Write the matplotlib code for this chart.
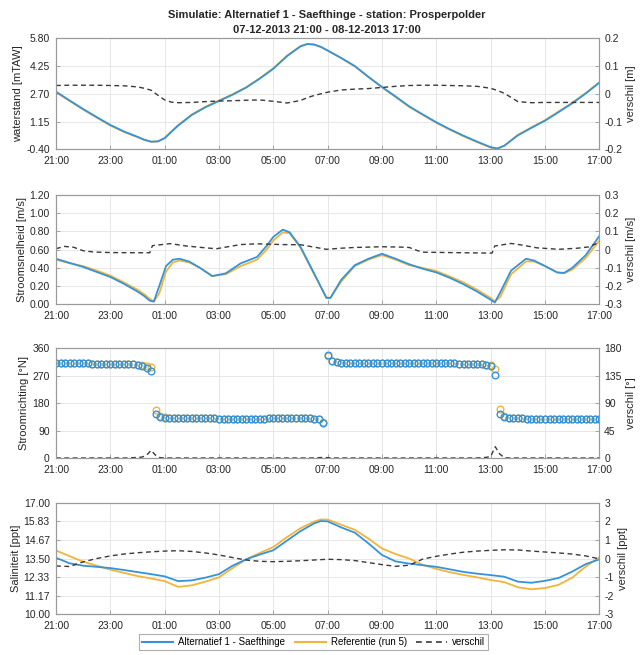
import numpy as np
import matplotlib.pyplot as plt
from matplotlib.lines import Line2D

plt.rcParams['font.family'] = ['Liberation Sans', 'DejaVu Sans']

# x axis: hours since 07-12-2013 21:00
tick_hours = [0, 2, 4, 6, 8, 10, 12, 14, 16, 18, 20]
tick_labels = ['21:00', '23:00', '01:00', '03:00', '05:00', '07:00',
               '09:00', '11:00', '13:00', '15:00', '17:00']

# --- waterstand [mTAW] ---
wl_t = [0, 0.5, 1, 1.5, 2, 2.5, 3, 3.25, 3.5, 3.75, 4, 4.25, 4.5, 5, 5.5, 6, 6.5, 7,
        7.5, 8, 8.5, 9, 9.25, 9.5, 9.75, 10, 10.5, 11, 11.5, 12, 12.5, 13, 13.5, 14,
        14.5, 15, 15.5, 16, 16.25, 16.5, 17, 17.5, 18, 18.5, 19, 19.5, 20]
wl_alt = [2.82, 2.33, 1.85, 1.40, 0.96, 0.60, 0.30, 0.14, 0.03, 0.04, 0.22, 0.58, 0.93,
          1.52, 1.95, 2.30, 2.65, 3.05, 3.55, 4.10, 4.80, 5.35, 5.48, 5.45, 5.32, 5.12,
          4.70, 4.25, 3.65, 3.08, 2.55, 2.00, 1.55, 1.11, 0.72, 0.36, 0.03, -0.28, -0.35,
          -0.20, 0.38, 0.80, 1.20, 1.68, 2.17, 2.72, 3.32]
wl_ref = [2.79, 2.30, 1.82, 1.37, 0.93, 0.57, 0.28, 0.12, 0.02, 0.05, 0.24, 0.61, 0.96,
          1.55, 1.98, 2.33, 2.68, 3.07, 3.57, 4.13, 4.83, 5.37, 5.49, 5.46, 5.32, 5.11,
          4.69, 4.23, 3.63, 3.06, 2.52, 1.97, 1.52, 1.08, 0.69, 0.33, 0.00, -0.30, -0.36,
          -0.20, 0.41, 0.83, 1.23, 1.71, 2.20, 2.75, 3.35]
wl_diff = [0.030, 0.031, 0.031, 0.031, 0.030, 0.029, 0.025, 0.020, 0.013, -0.005, -0.022,
           -0.030, -0.032, -0.031, -0.028, -0.026, -0.025, -0.023, -0.022, -0.027, -0.033,
           -0.024, -0.014, -0.006, 0.000, 0.006, 0.014, 0.017, 0.019, 0.023, 0.027, 0.030,
           0.031, 0.031, 0.030, 0.029, 0.027, 0.020, 0.012, 0.002, -0.028, -0.032, -0.031,
           -0.031, -0.031, -0.031, -0.031]

# --- stroomsnelheid [m/s] ---
sp_t = [0, 0.5, 1, 1.5, 2, 2.5, 3, 3.25, 3.45, 3.6, 3.8, 4.05, 4.3, 4.55, 4.9, 5.3, 5.75,
        6.25, 6.8, 7.4, 7.75, 8.0, 8.35, 8.6, 9.0, 9.5, 9.95, 10.1, 10.5, 11, 11.5, 12,
        12.5, 13, 13.5, 14, 14.5, 15, 15.5, 16, 16.15, 16.35, 16.75, 17.3, 17.6, 18,
        18.45, 18.7, 19, 19.5, 20]
sp_alt = [0.50, 0.455, 0.41, 0.355, 0.30, 0.225, 0.14, 0.09, 0.04, 0.03, 0.20, 0.42, 0.49,
          0.50, 0.47, 0.40, 0.31, 0.34, 0.45, 0.52, 0.64, 0.74, 0.82, 0.79, 0.63, 0.34,
          0.07, 0.07, 0.27, 0.43, 0.50, 0.555, 0.50, 0.44, 0.39, 0.35, 0.29, 0.22, 0.14,
          0.05, 0.02, 0.13, 0.37, 0.50, 0.48, 0.42, 0.35, 0.345, 0.40, 0.54, 0.75]
sp_ref = [0.49, 0.45, 0.42, 0.37, 0.315, 0.24, 0.16, 0.11, 0.06, 0.03, 0.12, 0.36, 0.46,
          0.48, 0.46, 0.40, 0.31, 0.33, 0.42, 0.49, 0.60, 0.70, 0.79, 0.78, 0.62, 0.33,
          0.08, 0.07, 0.25, 0.42, 0.49, 0.54, 0.49, 0.43, 0.40, 0.365, 0.305, 0.24, 0.16,
          0.07, 0.03, 0.08, 0.33, 0.47, 0.47, 0.42, 0.35, 0.34, 0.38, 0.51, 0.70]
sd_t = [0, 0.3, 0.65, 1.0, 1.4, 2, 3.0, 3.45, 3.55, 4.2, 4.8, 5.5, 5.9, 6.8, 7.4, 8.3, 9.0,
        9.95, 10.5, 11.0, 12.0, 12.7, 13.0, 13.3, 13.5, 14.5, 15.5, 16.05, 16.15, 16.75,
        17.2, 17.7, 18.5, 19.2, 19.6, 20]
sp_diff = [0.005, 0.018, 0.013, -0.006, -0.013, -0.016, -0.017, -0.017, 0.022, 0.033,
           0.020, 0.010, 0.005, 0.028, 0.032, 0.028, 0.027, 0.002, 0.008, 0.012, 0.016,
           0.014, 0.012, -0.005, -0.014, -0.016, -0.018, -0.019, 0.020, 0.034, 0.024,
           0.010, 0.002, 0.008, 0.015, 0.040]

# --- stroomrichting [deg N], every 10 minutes ---
dir_t = np.arange(121) / 6.0
dir_alt = [311, 311, 311, 311, 311, 311, 311, 311, 310, 310, 310, 310,
           310, 309, 309, 309, 308, 307, 305, 302, 297, 285, 146, 136,
           133, 133, 133, 133, 133, 132, 132, 132, 132, 131, 131, 131,
           130, 129, 129, 128, 128, 128, 128, 129, 129, 130, 130, 131,
           132, 132, 132, 132, 132, 132, 132, 131, 131, 130, 127, 116,
           337, 318, 314, 313, 313, 313, 313, 313, 313, 313, 313, 313,
           313, 313, 313, 313, 313, 313, 312, 312, 312, 312, 312, 312,
           312, 312, 311, 311, 311, 310, 310, 309, 309, 308, 307, 305,
           301, 271, 145, 135, 132, 131, 131, 131, 130, 130, 130, 130,
           129, 129, 129, 129, 128, 128, 128, 128, 129, 129, 129, 129,
           130]
dir_ref = [311, 311, 311, 311, 311, 311, 311, 311, 310, 310, 310, 310,
           310, 309, 309, 309, 308, 307, 306, 305, 302, 298, 159, 138,
           134, 133, 133, 133, 133, 132, 132, 132, 132, 131, 131, 131,
           130, 129, 129, 128, 128, 128, 128, 129, 129, 130, 130, 131,
           132, 132, 132, 132, 132, 132, 132, 131, 131, 130, 128, 118,
           336, 318, 314, 313, 313, 313, 313, 313, 313, 313, 313, 313,
           313, 313, 313, 313, 313, 313, 312, 312, 312, 312, 312, 312,
           312, 312, 311, 311, 311, 310, 310, 309, 309, 308, 307, 306,
           304, 291, 160, 138, 133, 131, 131, 131, 130, 130, 130, 130,
           129, 129, 129, 129, 128, 128, 128, 128, 129, 129, 129, 129,
           130]
dir_diff = [0.5, 0.5, 0.5, 0.5, 0.5, 0.5, 0.5, 0.5, 0.5, 0.5, 0.5, 0.5,
            0.5, 0.5, 0.5, 0.5, 0.5, 1, 1.5, 2, 5, 13, 5, 1,
            0.5, 0.5, 0.5, 0.5, 0.5, 0.5, 0.5, 0.5, 0.5, 0.5, 0.5, 0.5,
            0.5, 0.5, 0.5, 0.5, 0.5, 0.5, 0.5, 0.5, 0.5, 0.5, 0.5, 0.5,
            0.5, 0.5, 0.5, 0.5, 0.5, 0.5, 0.5, 0.5, 0.5, 0.5, 1, 1.5,
            1, 0.5, 0.5, 0.5, 0.5, 0.5, 0.5, 0.5, 0.5, 0.5, 0.5, 0.5,
            0.5, 0.5, 0.5, 0.5, 0.5, 0.5, 0.5, 0.5, 0.5, 0.5, 0.5, 0.5,
            0.5, 0.5, 0.5, 0.5, 0.5, 0.5, 0.5, 0.5, 0.5, 0.5, 1, 1.5,
            3, 19, 7, 1, 0.5, 0.5, 0.5, 0.5, 0.5, 0.5, 0.5, 0.5,
            0.5, 0.5, 0.5, 0.5, 0.5, 0.5, 0.5, 0.5, 0.5, 0.5, 0.5, 0.5,
            0.5]

# --- saliniteit [ppt] ---
sal_t = [0, 0.5, 1, 1.5, 2, 2.5, 3, 3.5, 4, 4.5, 5, 5.5, 6, 6.5, 7, 7.5, 8, 8.5, 9, 9.5,
         9.75, 10, 10.5, 11, 11.5, 12, 12.5, 13, 13.5, 14, 14.5, 15, 15.5, 16, 16.5, 17,
         17.5, 18, 18.5, 19, 19.5, 20]
sal_alt = [13.55, 13.20, 13.05, 12.98, 12.90, 12.78, 12.65, 12.52, 12.38, 12.08, 12.13,
           12.30, 12.52, 13.05, 13.45, 13.75, 14.02, 14.62, 15.22, 15.70, 15.85, 15.83,
           15.45, 15.12, 14.45, 13.72, 13.32, 13.18, 13.08, 12.98, 12.82, 12.66, 12.55,
           12.46, 12.36, 12.05, 11.98, 12.10, 12.28, 12.68, 13.15, 13.45]
sal_ref = [14.00, 13.65, 13.30, 13.05, 12.80, 12.60, 12.40, 12.25, 12.08, 11.72, 11.82,
           12.05, 12.32, 12.90, 13.45, 13.85, 14.22, 14.84, 15.40, 15.82, 15.95, 15.94,
           15.62, 15.30, 14.75, 14.13, 13.78, 13.50, 13.10, 12.85, 12.64, 12.47, 12.32,
           12.15, 12.02, 11.70, 11.57, 11.65, 11.85, 12.30, 13.00, 13.57]
sal_diff = [-0.40, -0.43, -0.18, 0.00, 0.14, 0.24, 0.31, 0.36, 0.40, 0.42, 0.38, 0.30,
            0.19, 0.05, -0.08, -0.15, -0.17, -0.15, -0.12, -0.08, -0.06, -0.04, -0.06,
            -0.11, -0.22, -0.33, -0.42, -0.36, -0.03, 0.12, 0.24, 0.34, 0.40, 0.44, 0.47,
            0.46, 0.40, 0.35, 0.30, 0.24, 0.14, -0.02]

BLUE = '#3593da'
YELLOW = '#f2b43a'
DASH = '#3a3a3a'
SPINE = '#9a9a9a'
TXT = '#262626'
dash_style = (0, (3.5, 2.5))


def style(ax, axr, yticks, ylabels, rticks, rlabels, ylabel, rlabel):
    ax.set_xlim(0, 20)
    ax.set_xticks(tick_hours)
    ax.set_xticklabels(tick_labels)
    ax.set_ylim(yticks[0], yticks[-1])
    ax.set_yticks(yticks)
    ax.set_yticklabels(ylabels)
    axr.set_ylim(rticks[0], rticks[-1])
    axr.set_yticks(rticks)
    axr.set_yticklabels(rlabels)
    ax.grid(True, color='#e3e3e3', lw=0.6)
    ax.set_axisbelow(True)
    for a in (ax, axr):
        for s in a.spines.values():
            s.set_color(SPINE)
            s.set_linewidth(0.8)
        a.tick_params(direction='in', length=3, width=0.6, color=SPINE,
                      labelsize=7.5, labelcolor=TXT)
    ax.tick_params(axis='x', pad=4.5)
    ax.tick_params(axis='y', pad=4.5)
    axr.tick_params(axis='y', pad=3.5)
    ax.set_ylabel(ylabel, fontsize=8, color=TXT, labelpad=2)
    axr.set_ylabel(rlabel, fontsize=8, color=TXT, labelpad=3)


fig = plt.figure(figsize=(6.4, 6.55), dpi=100)
L, W = 0.0875, 0.849

ax1 = fig.add_axes([L, 0.772, W, 0.1695])
ax2 = fig.add_axes([L, 0.5354, W, 0.1669])
ax3 = fig.add_axes([L, 0.3003, W, 0.168])
ax4 = fig.add_axes([L, 0.0621, W, 0.1704])

# panel 1
ax1r = ax1.twinx()
ax1.plot(wl_t, wl_ref, color=YELLOW, lw=1.3, zorder=2)
ax1.plot(wl_t, wl_alt, color=BLUE, lw=1.3, zorder=3)
ax1r.plot(wl_t, wl_diff, color=DASH, lw=1.0, ls=dash_style)
style(ax1, ax1r, [-0.4, 1.15, 2.7, 4.25, 5.8], ['-0.40', '1.15', '2.70', '4.25', '5.80'],
      [-0.2, -0.1, 0, 0.1, 0.2], ['-0.2', '-0.1', '0', '0.1', '0.2'],
      'waterstand [mTAW]', 'verschil [m]')

# panel 2
ax2r = ax2.twinx()
ax2.plot(sp_t, sp_ref, color=YELLOW, lw=1.3, zorder=2)
ax2.plot(sp_t, sp_alt, color=BLUE, lw=1.3, zorder=3)
ax2r.plot(sd_t, sp_diff, color=DASH, lw=1.0, ls=dash_style)
style(ax2, ax2r, [0, 0.2, 0.4, 0.6, 0.8, 1.0, 1.2],
      ['0.00', '0.20', '0.40', '0.60', '0.80', '1.00', '1.20'],
      [-0.3, -0.2, -0.1, 0, 0.1, 0.2, 0.3],
      ['-0.3', '-0.2', '-0.1', '0', '0.1', '0.2', '0.3'],
      'Stroomsnelheid [m/s]', 'verschil [m/s]')

# panel 3
ax3r = ax3.twinx()
ax3.plot(dir_t, dir_ref, 'o', mfc='none', mec=YELLOW, ms=4.8, mew=1.0, zorder=2)
ax3.plot(dir_t, dir_alt, 'o', mfc='none', mec=BLUE, ms=4.8, mew=1.0, zorder=3)
ax3r.plot(dir_t, dir_diff, color=DASH, lw=1.0, ls=dash_style)
style(ax3, ax3r, [0, 90, 180, 270, 360], ['0', '90', '180', '270', '360'],
      [0, 45, 90, 135, 180], ['0', '45', '90', '135', '180'],
      'Stroomrichting [°N]', 'verschil [°]')

# panel 4
ax4r = ax4.twinx()
ax4.plot(sal_t, sal_ref, color=YELLOW, lw=1.3, zorder=2)
ax4.plot(sal_t, sal_alt, color=BLUE, lw=1.3, zorder=3)
ax4r.plot(sal_t, sal_diff, color=DASH, lw=1.0, ls=dash_style)
sal_ticks = np.linspace(10, 17, 7)
style(ax4, ax4r, sal_ticks, ['%.2f' % v for v in sal_ticks],
      [-3, -2, -1, 0, 1, 2, 3], ['-3', '-2', '-1', '0', '1', '2', '3'],
      'Saliniteit [ppt]', 'verschil [ppt]')

fig.text(0.511, 0.977, 'Simulatie: Alternatief 1 - Saefthinge - station: Prosperpolder',
         ha='center', va='center', fontsize=8, fontweight='bold', color=TXT)
fig.text(0.511, 0.954, '07-12-2013 21:00 - 08-12-2013 17:00',
         ha='center', va='center', fontsize=8, fontweight='bold', color=TXT)

handles = [Line2D([], [], color=BLUE, lw=1.5),
           Line2D([], [], color=YELLOW, lw=1.5),
           Line2D([], [], color=DASH, lw=1.2, ls=dash_style)]
leg = fig.legend(handles, ['Alternatief 1 - Saefthinge', 'Referentie (run 5)', 'verschil'],
                 loc='lower center', bbox_to_anchor=(0.49, 0.0), ncol=3, fontsize=7,
                 frameon=True, fancybox=False, handlelength=3.2, columnspacing=1.0,
                 handletextpad=0.5, borderpad=0.3)
leg.get_frame().set_edgecolor(SPINE)
leg.get_frame().set_linewidth(0.8)

fig.savefig('out.png', dpi=100)
